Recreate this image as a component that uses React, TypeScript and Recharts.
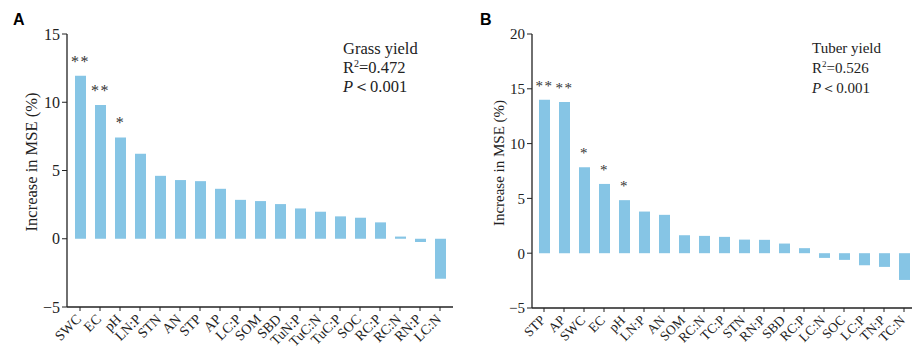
import React from 'react';
import { BarChart, Bar, XAxis, YAxis, LabelList } from 'recharts';

const catsA = ['SWC', 'EC', 'pH', 'LN:P', 'STN', 'AN', 'STP', 'AP', 'LC:P', 'SOM', 'SBD', 'TuN:P', 'TuC:N', 'TuC:P', 'SOC', 'RC:P', 'RC:N', 'RN:P', 'LC:N'];
const valsA = [11.95, 9.8, 7.42, 6.22, 4.61, 4.3, 4.22, 3.66, 2.85, 2.76, 2.54, 2.22, 1.98, 1.64, 1.54, 1.2, 0.16, -0.24, -2.93];
const sigA = ['**', '**', '*', '', '', '', '', '', '', '', '', '', '', '', '', '', '', '', ''];
const ticksA = [-5, 0, 5, 10, 15];

const catsB = ['STP', 'AP', 'SWC', 'EC', 'pH', 'LN:P', 'AN', 'SOM', 'RC:N', 'TC:P', 'STN', 'RN:P', 'SBD', 'RC:P', 'LC:N', 'SOC', 'LC:P', 'TN:P', 'TC:N'];
const valsB = [13.99, 13.8, 7.85, 6.32, 4.84, 3.8, 3.5, 1.64, 1.58, 1.49, 1.24, 1.22, 0.88, 0.46, -0.43, -0.61, -1.1, -1.25, -2.44];
const sigB = ['**', '**', '*', '*', '*', '', '', '', '', '', '', '', '', '', '', '', '', '', ''];
const ticksB = [-5, 0, 5, 10, 15, 20];

const dataA = catsA.map((c, i) => ({ name: c, value: valsA[i], sig: sigA[i] }));
const dataB = catsB.map((c, i) => ({ name: c, value: valsB[i], sig: sigB[i] }));

const SERIF = '"Liberation Serif", "Times New Roman", serif';
const BAR = '#86C5E5';
const AX = '#222';

const fmt = (v: number) => (v < 0 ? '\u2212' + Math.abs(v) : String(v));

const makeXTick = (fs: number) => (props: any) => {
  const { x, y, payload } = props;
  const ax = x + 2;
  const ay = y + 7;
  return (
    <text
      x={ax}
      y={ay}
      textAnchor="end"
      transform={`rotate(-45, ${ax}, ${ay})`}
      fontFamily={SERIF}
      fontSize={fs}
      fill={AX}
    >
      {payload.value}
    </text>
  );
};

const makeSig = (fs: number) => (props: any) => {
  const { x, y, width, value } = props;
  if (!value) return null;
  return (
    <text
      x={Number(x) + Number(width) / 2}
      y={Number(y) - 9}
      textAnchor="middle"
      fontFamily={SERIF}
      fontSize={fs}
      fill="#333"
      letterSpacing={1.5}
    >
      {value}
    </text>
  );
};

type PanelProps = {
  data: any[];
  ticks: number[];
  domain: [number, number];
  width: number;
  yWidth: number;
  xHeight: number;
  padL: number;
  padR: number;
  tickFs: number;
  xFs: number;
  sigFs: number;
};

const Panel = (p: PanelProps) => (
  <BarChart
    width={p.width}
    height={349}
    data={p.data}
    margin={{ top: 34, right: 3, bottom: 0, left: 0 }}
    barSize={11}
  >
    <XAxis
      dataKey="name"
      interval={0}
      height={p.xHeight}
      padding={{ left: p.padL, right: p.padR }}
      axisLine={{ stroke: AX, strokeWidth: 1.3 }}
      tickLine={{ stroke: AX, strokeWidth: 1 }}
      tickSize={4}
      tick={makeXTick(p.xFs)}
    />
    <XAxis
      xAxisId="top"
      dataKey="name"
      orientation="top"
      height={0}
      tick={false}
      tickLine={false}
      axisLine={{ stroke: AX, strokeWidth: 1.3 }}
    />
    <YAxis
      domain={p.domain}
      ticks={p.ticks}
      width={p.yWidth}
      interval={0}
      tickSize={5}
      tickFormatter={fmt}
      axisLine={{ stroke: AX, strokeWidth: 1.3 }}
      tickLine={{ stroke: AX, strokeWidth: 1 }}
      tick={{ fontFamily: SERIF, fontSize: p.tickFs, fill: AX }}
    />
    <YAxis
      yAxisId="right"
      orientation="right"
      width={0}
      domain={[0, 1]}
      tick={false}
      tickLine={false}
      axisLine={{ stroke: AX, strokeWidth: 1.3 }}
    />
    <Bar dataKey="value" fill={BAR} isAnimationActive={false}>
      <LabelList dataKey="sig" content={makeSig(p.sigFs)} />
    </Bar>
  </BarChart>
);

const abs = (left: number, top: number, extra: React.CSSProperties = {}): React.CSSProperties => ({
  position: 'absolute',
  left,
  top,
  ...extra,
});

export default function App() {
  return (
    <div
      style={{
        position: 'absolute',
        left: 0,
        top: 0,
        width: 912,
        height: 349,
        overflow: 'hidden',
        background: '#fff',
      }}
    >
      <div style={abs(0, 0)}>
        <Panel
          data={dataA}
          ticks={ticksA}
          domain={[-5, 15]}
          width={456}
          yWidth={67}
          xHeight={42}
          padL={3}
          padR={3}
          tickFs={16}
          xFs={14}
          sigFs={16}
        />
      </div>
      <div style={abs(456, 0)}>
        <Panel
          data={dataB}
          ticks={ticksB}
          domain={[-5, 20]}
          width={464}
          yWidth={76}
          xHeight={41}
          padL={2}
          padR={3}
          tickFs={15}
          xFs={13.5}
          sigFs={15}
        />
      </div>

      <div style={abs(13, 11, { fontFamily: 'Arial, "Liberation Sans", sans-serif', fontWeight: 'bold', fontSize: 16, lineHeight: '18px' })}>A</div>
      <div style={abs(480, 11, { fontFamily: 'Arial, "Liberation Sans", sans-serif', fontWeight: 'bold', fontSize: 16, lineHeight: '18px' })}>B</div>

      <div
        style={abs(31.5, 162, {
          transform: 'translate(-50%, -50%) rotate(-90deg)',
          whiteSpace: 'nowrap',
          fontFamily: SERIF,
          fontSize: 16.5,
          color: AX,
        })}
      >
        Increase in MSE (%)
      </div>
      <div
        style={abs(499, 162.5, {
          transform: 'translate(-50%, -50%) rotate(-90deg)',
          whiteSpace: 'nowrap',
          fontFamily: SERIF,
          fontSize: 15,
          color: AX,
        })}
      >
        Increase in MSE (%)
      </div>

      <div style={abs(343, 39, { fontFamily: SERIF, fontSize: 16.5, lineHeight: '19px', color: AX, whiteSpace: 'nowrap' })}>
        <div>Grass yield</div>
        <div>
          R<sup style={{ fontSize: 10, verticalAlign: 'top', lineHeight: '12px' }}>2</sup>=0.472
        </div>
        <div>
          <i>P</i>＜0.001
        </div>
      </div>
      <div style={abs(812, 38, { fontFamily: SERIF, fontSize: 15, lineHeight: '20px', color: AX, whiteSpace: 'nowrap' })}>
        <div>Tuber yield</div>
        <div>
          R<sup style={{ fontSize: 9, verticalAlign: 'top', lineHeight: '12px' }}>2</sup>=0.526
        </div>
        <div>
          <i>P</i>＜0.001
        </div>
      </div>
    </div>
  );
}
